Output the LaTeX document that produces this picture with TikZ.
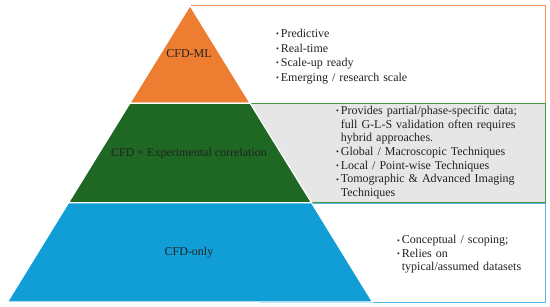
\documentclass[tikz,border=0pt]{standalone}
\usepackage{fontspec}
\setmainfont{Liberation Serif}
\definecolor{tierorange}{HTML}{ED7D31}
\definecolor{tiergreen}{HTML}{1E6824}
\definecolor{tierblue}{HTML}{119ED7}
\definecolor{lineorange}{RGB}{240,145,95}
\definecolor{linegreen}{RGB}{70,150,70}
\definecolor{lineblue}{RGB}{85,185,230}
\definecolor{boxgray}{HTML}{E7E6E6}
\definecolor{textdark}{HTML}{222222}
\newcommand{\bulmark}{\makebox[4.7pt][l]{\raisebox{0.9pt}{\fontsize{8}{8}\selectfont\textbullet}}}
\newcommand{\firstitem}{\hangindent=4.7pt\hangafter=1\bulmark}
\newcommand{\bitem}{\par\noindent\hangindent=4.7pt\hangafter=1\bulmark}
\tikzset{
  tier/.style={draw=white, line width=1.2pt, line join=miter},
  infobox/.style={line width=1pt},
  boxtext/.style={anchor=base west, inner sep=0pt, align=left, text=textdark},
  tierlabel/.style={inner sep=0pt, text=textdark, font=\fontsize{12}{14}\selectfont}
}
\begin{document}
\begin{tikzpicture}[x=1pt,y=-1pt]
\useasboundingbox (0,0) rectangle (550,307);
% pyramid corner points
\coordinate (apex) at (190,5.5);
\coordinate (l1) at (129.8,103.3);
\coordinate (r1) at (250.2,103.3);
\coordinate (l2) at (68.5,202.7);
\coordinate (r2) at (311.5,202.7);
\coordinate (l3) at (7.4,302);
\coordinate (r3) at (372.6,302);
% information boxes (behind the pyramid)
\draw[infobox, draw=lineorange, fill=white] (190,5.5) rectangle (545,103.3);
\draw[infobox, draw=linegreen, fill=boxgray] (200,103.5) rectangle (545,202.5);
\draw[infobox, draw=lineblue, fill=white] (260,203.3) rectangle (545,302.2);
% pyramid tiers
\filldraw[tier, fill=tierorange] (apex) -- (r1) -- (l1) -- cycle;
\filldraw[tier, fill=tiergreen] (l1) -- (r1) -- (r2) -- (l2) -- cycle;
\filldraw[tier, fill=tierblue] (l2) -- (r2) -- (r3) -- (l3) -- cycle;
% tier labels
\node[tierlabel] (ml) at (189,54) {CFD-ML};
\node[tierlabel] (exp) at (189,154) {CFD + Experimental correlation};
\node[tierlabel] (only) at (189,253) {CFD-only};
% box texts
\node[boxtext, text width=262pt, font=\fontsize{12}{14.6}\selectfont] (ttop) at (276,37.5) {%
\firstitem Predictive
\bitem Real-time
\bitem Scale-up ready
\bitem Emerging / research scale\par};
\node[boxtext, text width=200pt, font=\fontsize{12}{13.7}\selectfont] (tmid) at (336,114.5) {%
\firstitem Provides partial/phase-specific data;\newline full G-L-S validation often requires\newline hybrid approaches.
\bitem Global / Macroscopic Techniques
\bitem Local / Point-wise Techniques
\bitem Tomographic \& Advanced Imaging\newline Techniques\par};
\node[boxtext, text width=140pt, font=\fontsize{12}{13.5}\selectfont] (tbot) at (397,244) {%
\firstitem Conceptual / scoping;
\bitem Relies on\newline typical/assumed datasets\par};
\end{tikzpicture}
\end{document}
